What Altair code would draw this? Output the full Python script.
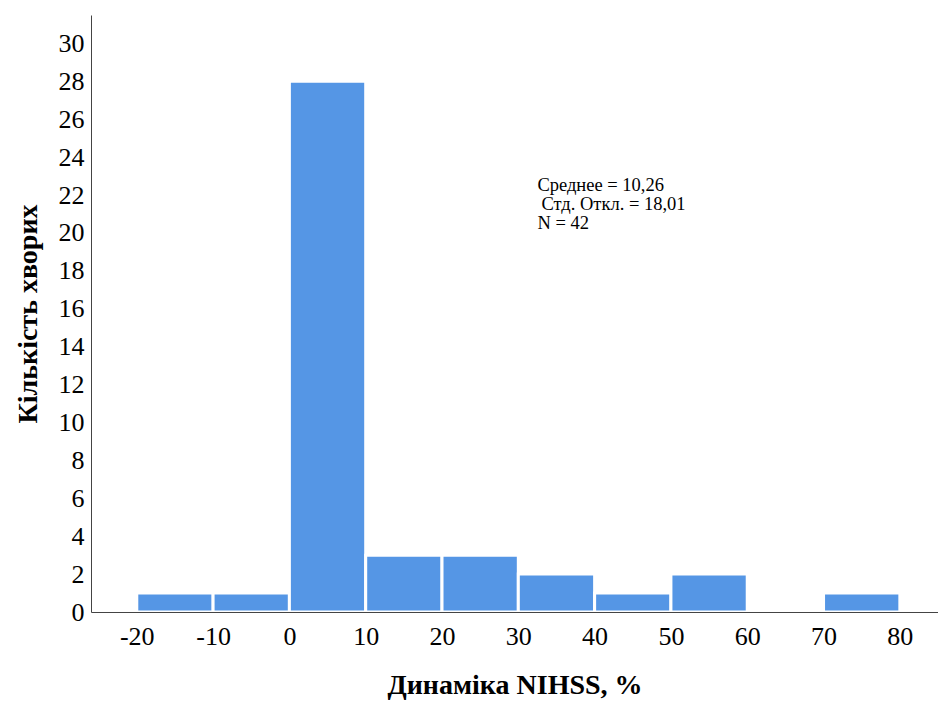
import altair as alt
import pandas as pd

# Histogram bins (lower edge, upper edge) and patient counts per bin
bin_start = [-20, -10, 0, 10, 20, 30, 40, 50, 60, 70]
bin_end = [-10, 0, 10, 20, 30, 40, 50, 60, 70, 80]
counts = [1, 1, 28, 3, 3, 2, 1, 2, 0, 1]

x_ticks = [-20, -10, 0, 10, 20, 30, 40, 50, 60, 70, 80]
y_ticks = list(range(0, 31, 2))

stats_lines = ["Среднее = 10,26", "Стд. Откл. = 18,01", "N = 42"]
stats_indent = [0, 4, 0]

df = pd.DataFrame({"start": bin_start, "end": bin_end, "count": counts})
anchor = pd.DataFrame({"x": [32.5], "y": [22.55]})

SERIF = "Liberation Serif, Times New Roman, serif"

x_scale = alt.Scale(domain=[-26, 85], nice=False, zero=False)
y_scale = alt.Scale(domain=[0, 31.5], nice=False)

x_axis = alt.Axis(
    values=x_ticks,
    labelExpr="'' + datum.value",
    title="Динаміка NIHSS, %",
    labelPadding=11,
    titlePadding=22,
    labelOverlap=False,
    zindex=1,
)
y_axis = alt.Axis(
    values=y_ticks,
    title="Кількість хворих",
    labelPadding=7,
    titlePadding=16,
    labelOverlap=False,
    zindex=1,
)

bars = (
    alt.Chart(df)
    .transform_filter("datum.count > 0")
    .mark_bar(color="#5596e5", stroke="white", strokeWidth=3)
    .encode(
        x=alt.X("start:Q", scale=x_scale, axis=x_axis),
        x2="end:Q",
        y=alt.Y("count:Q", scale=y_scale, axis=y_axis),
        y2=alt.datum(0),
    )
)

# Summary statistics block, one text line per layer
text_layers = [
    alt.Chart(anchor)
    .mark_text(
        align="left",
        baseline="middle",
        font=SERIF,
        fontSize=18.5,
        color="black",
        dx=indent,
        dy=i * 19,
    )
    .encode(
        x=alt.X("x:Q", scale=x_scale, axis=x_axis),
        y=alt.Y("y:Q", scale=y_scale, axis=y_axis),
        text=alt.value(line),
    )
    for i, (line, indent) in enumerate(zip(stats_lines, stats_indent))
]

chart = (
    alt.layer(bars, *text_layers)
    .properties(
        width=847,
        height=597,
        autosize=alt.AutoSizeParams(type="none"),
        padding={"left": 91, "top": 15, "right": 0, "bottom": 90},
        background="white",
    )
    .configure_view(stroke=None)
    .configure_axis(
        ticks=False,
        grid=False,
        labelOverlap=False,
        labelFontSize=26,
        titleFontSize=28,
        labelFont=SERIF,
        titleFont=SERIF,
        labelColor="black",
        titleColor="black",
        titleFontWeight="bold",
        domainColor="#444",
    )
)

chart.save("out.html", embed_options={"renderer": "svg", "actions": False})
